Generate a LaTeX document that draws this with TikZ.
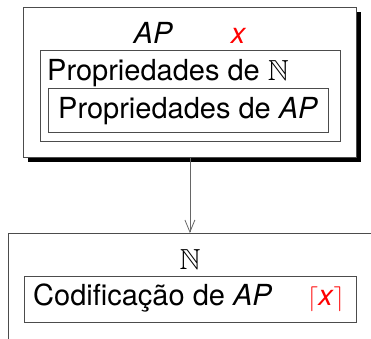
\documentclass[tikz,border=0pt]{standalone}
\usepackage{fontspec}
\setmainfont{TeX Gyre Heros}
\usepackage{amssymb}
\usetikzlibrary{shadows,arrows.meta}

\tikzset{
  caixa/.style={draw=black!70, line width=0.8pt, fill=white, inner sep=0pt, anchor=north west},
  texto/.style={inner sep=0pt, anchor=base west},
  flecha/.style={draw=black!60, line width=0.8pt, -{Straight Barb[length=12pt,width=10pt]}},
}

\begin{document}
\begin{tikzpicture}[x=1pt, y=-1pt, font=\fontsize{29}{35}\selectfont]
            \useasboundingbox (0,0) rectangle (371,338);
            % caixa de cima
            \node[caixa, minimum width=333pt, minimum height=150pt,
                  drop shadow={shadow xshift=4.5pt, shadow yshift=-4.5pt, fill=black, opacity=1}] (externo) at (23,7) {};
            \node[anchor=base, inner sep=0pt] (topo) at (190,43) {\textit{AP}\hspace{58pt}\textcolor{red}{\textit{x}}};
            \node[caixa, minimum width=300pt, minimum height=91pt] (propN) at (40,50) {};
            \draw (47,80) node[texto]{Propriedades de $\mathbb{N}$};
            \node[caixa, minimum width=280pt, minimum height=44pt] (propAP) at (48,88) {};
            \draw (58,118) node[texto]{Propriedades de \textit{AP}};
            % caixa de baixo
            \node[caixa, minimum width=420pt, minimum height=160pt] (inferior) at (8,233) {};
            \node[anchor=base, inner sep=0pt] (nat) at (190,269) {$\mathbb{N}$};
            \node[caixa, minimum width=332pt, minimum height=46pt] (codbox) at (24,276) {};
            \draw (33,305) node[texto]{Codificação de \textit{AP}};
            \draw (307,305) node[texto, red]{$\lceil$\textit{x}$\rceil$};
            \draw[flecha] (externo.south) -- (externo.south |- inferior.north);
        \end{tikzpicture}
\end{document}
